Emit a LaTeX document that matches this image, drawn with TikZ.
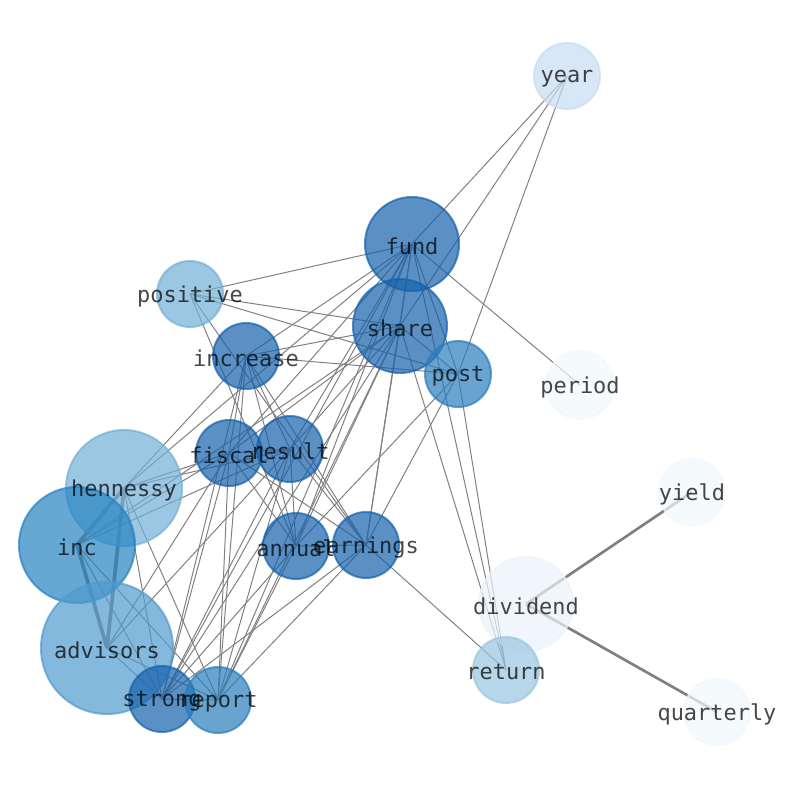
\documentclass[tikz,border=0pt]{standalone}
\usepackage{fontspec}
\usepackage{xcolor}
\newfontfamily\labelfont{DejaVu Sans Mono}
\definecolor{bdark}{RGB}{21,97,171}
\definecolor{bpost}{RGB}{42,125,188}
\definecolor{binc}{RGB}{38,131,194}
\definecolor{badv}{RGB}{81,155,206}
\definecolor{bhen}{RGB}{115,176,215}
\definecolor{bret}{RGB}{153,198,225}
\definecolor{byear}{RGB}{199,221,241}
\definecolor{bdiv}{RGB}{236,243,251}
\definecolor{bpale}{RGB}{242,248,253}
\definecolor{linkgray}{RGB}{128,128,128}
\pgfdeclarelayer{bg}
\pgfdeclarelayer{edges}
\pgfsetlayers{bg,edges,main}

\begin{document}
\begin{tikzpicture}[
x=0.025cm, y=-0.025cm,
vert/.style 2 args={circle, inner sep=0pt, minimum size=#1*0.05cm, fill=#2, draw=#2, line width=1.4pt, fill opacity=0.7, draw opacity=0.7},
lbl/.style={font=\labelfont\fontsize{15.6}{18}\selectfont, text=black, text opacity=0.72, inner sep=0pt, yshift=-0.06cm},
link/.style={draw=linkgray, line width=0.7pt},
heavy/.style={draw=linkgray, line width=2.6pt},
medium/.style={draw=linkgray, line width=1.9pt}
]
\begin{pgfonlayer}{bg}
\fill[white] (0,0) rectangle (794,790);
\end{pgfonlayer}
\useasboundingbox (0,0) rectangle (794,790);

% word nodes
\node[vert={33}{byear}] (year) at (567,76) {};
\node[vert={47}{bdark}] (fund) at (412,244) {};
\node[vert={47}{bdark}] (share) at (400,326) {};
\node[vert={33}{bhen}] (positive) at (190,294) {};
\node[vert={33}{bdark}] (increase) at (246,356) {};
\node[vert={33}{bpost}] (post) at (458,374) {};
\node[vert={34}{bpale}] (period) at (580,385) {};
\node[vert={33}{bdark}] (fiscal) at (229,453) {};
\node[vert={33}{bdark}] (result) at (290,449) {};
\node[vert={58}{bhen}] (hennessy) at (124,488) {};
\node[vert={58}{binc}] (inc) at (77,545) {};
\node[vert={33}{bdark}] (annual) at (296,546) {};
\node[vert={33}{bdark}] (earnings) at (366,545) {};
\node[vert={33}{bpale}] (yield) at (692,492) {};
\node[vert={47}{bdiv}] (dividend) at (526,604) {};
\node[vert={66}{badv}] (advisors) at (107,648) {};
\node[vert={33}{bret}] (return) at (506,670) {};
\node[vert={33}{bdark}] (strong) at (162,699) {};
\node[vert={33}{bpost}] (report) at (218,700) {};
\node[vert={33}{bpale}] (quarterly) at (717,712) {};

% labels on top
\node[lbl] (year-l) at (year) {year};
\node[lbl] (fund-l) at (fund) {fund};
\node[lbl] (share-l) at (share) {share};
\node[lbl] (positive-l) at (positive) {positive};
\node[lbl] (increase-l) at (increase) {increase};
\node[lbl] (post-l) at (post) {post};
\node[lbl] (period-l) at (period) {period};
\node[lbl] (fiscal-l) at (fiscal) {fiscal};
\node[lbl] (result-l) at (result) {result};
\node[lbl] (hennessy-l) at (hennessy) {hennessy};
\node[lbl] (inc-l) at (inc) {inc};
\node[lbl] (annual-l) at (annual) {annual};
\node[lbl] (earnings-l) at (earnings) {earnings};
\node[lbl] (yield-l) at (yield) {yield};
\node[lbl] (dividend-l) at (dividend) {dividend};
\node[lbl] (advisors-l) at (advisors) {advisors};
\node[lbl] (return-l) at (return) {return};
\node[lbl] (strong-l) at (strong) {strong};
\node[lbl] (report-l) at (report) {report};
\node[lbl] (quarterly-l) at (quarterly) {quarterly};

% co-occurrence links, under the nodes
\begin{pgfonlayer}{edges}
\draw[link] (year.center) -- (fund.center);
\draw[link] (year.center) -- (share.center);
\draw[link] (year.center) -- (post.center);
\draw[link] (fund.center) -- (share.center);
\draw[link] (fund.center) -- (positive.center);
\draw[link] (fund.center) -- (increase.center);
\draw[link] (fund.center) -- (period.center);
\draw[link] (fund.center) -- (hennessy.center);
\draw[link] (fund.center) -- (post.center);
\draw[link] (fund.center) -- (fiscal.center);
\draw[link] (fund.center) -- (result.center);
\draw[link] (fund.center) -- (annual.center);
\draw[link] (fund.center) -- (earnings.center);
\draw[link] (fund.center) -- (strong.center);
\draw[link] (fund.center) -- (report.center);
\draw[link] (fund.center) -- (return.center);
\draw[link] (share.center) -- (positive.center);
\draw[link] (share.center) -- (increase.center);
\draw[link] (share.center) -- (post.center);
\draw[link] (share.center) -- (fiscal.center);
\draw[link] (share.center) -- (result.center);
\draw[link] (share.center) -- (annual.center);
\draw[link] (share.center) -- (earnings.center);
\draw[link] (share.center) -- (strong.center);
\draw[link] (share.center) -- (report.center);
\draw[link] (share.center) -- (return.center);
\draw[link] (share.center) -- (inc.center);
\draw[link] (positive.center) -- (post.center);
\draw[link] (positive.center) -- (annual.center);
\draw[link] (positive.center) -- (earnings.center);
\draw[link] (increase.center) -- (post.center);
\draw[link] (increase.center) -- (hennessy.center);
\draw[link] (increase.center) -- (fiscal.center);
\draw[link] (increase.center) -- (result.center);
\draw[link] (increase.center) -- (annual.center);
\draw[link] (increase.center) -- (earnings.center);
\draw[link] (increase.center) -- (strong.center);
\draw[link] (increase.center) -- (report.center);
\draw[link] (post.center) -- (annual.center);
\draw[link] (post.center) -- (earnings.center);
\draw[link] (post.center) -- (return.center);
\draw[heavy] (hennessy.center) -- (inc.center);
\draw[heavy] (hennessy.center) -- (advisors.center);
\draw[link] (hennessy.center) -- (fiscal.center);
\draw[link] (hennessy.center) -- (result.center);
\draw[link] (hennessy.center) -- (strong.center);
\draw[link] (hennessy.center) -- (report.center);
\draw[heavy] (inc.center) -- (advisors.center);
\draw[link] (inc.center) -- (fiscal.center);
\draw[link] (inc.center) -- (result.center);
\draw[link] (inc.center) -- (strong.center);
\draw[link] (inc.center) -- (report.center);
\draw[link] (advisors.center) -- (fiscal.center);
\draw[link] (advisors.center) -- (result.center);
\draw[link] (advisors.center) -- (strong.center);
\draw[link] (advisors.center) -- (report.center);
\draw[link] (fiscal.center) -- (result.center);
\draw[link] (fiscal.center) -- (annual.center);
\draw[link] (fiscal.center) -- (earnings.center);
\draw[link] (fiscal.center) -- (strong.center);
\draw[link] (fiscal.center) -- (report.center);
\draw[link] (result.center) -- (annual.center);
\draw[link] (result.center) -- (earnings.center);
\draw[link] (result.center) -- (strong.center);
\draw[link] (result.center) -- (report.center);
\draw[link] (annual.center) -- (earnings.center);
\draw[link] (annual.center) -- (strong.center);
\draw[link] (annual.center) -- (report.center);
\draw[link] (earnings.center) -- (strong.center);
\draw[link] (earnings.center) -- (report.center);
\draw[link] (earnings.center) -- (return.center);
\draw[link] (strong.center) -- (report.center);
\draw[medium] (dividend.center) -- (yield.center);
\draw[medium] (dividend.center) -- (quarterly.center);
\end{pgfonlayer}
\end{tikzpicture}
\end{document}
